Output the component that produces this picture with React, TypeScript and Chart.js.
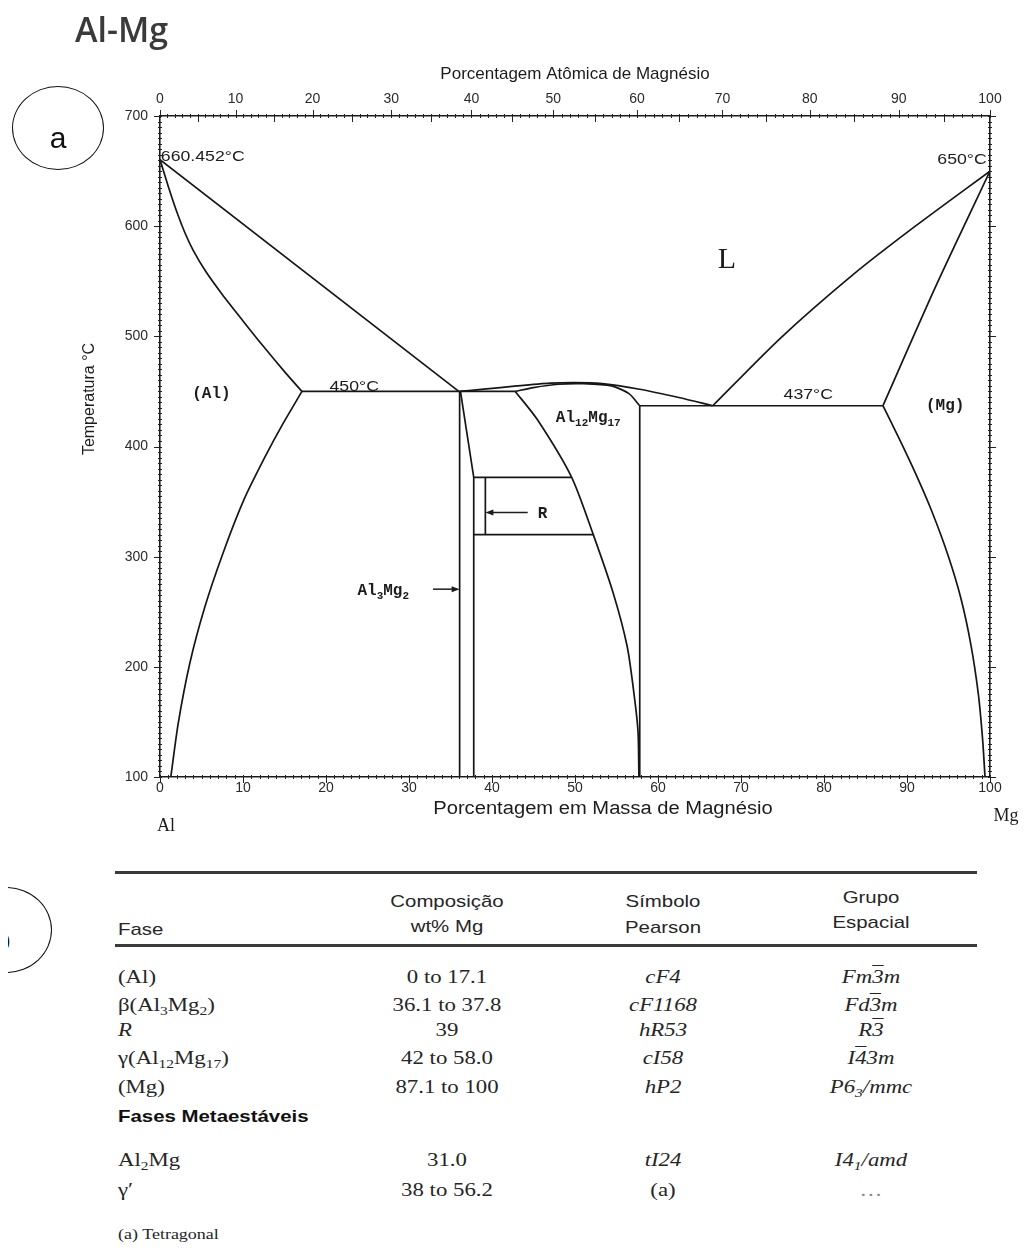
import React, { useEffect, useRef } from "react";
import { Chart, registerables } from "chart.js";

Chart.register(...registerables);

// ---------- phase boundaries: [wt% Mg, temperature °C] ----------
const alLiquidus = [[0, 660.452], [36.0, 450]];
const alSolidus = [[0, 660.452], [1, 636], [2, 613.5], [3, 594], [4, 578], [5.5, 559], [7.5, 538], [10, 514], [12.5, 490.5], [15, 468], [17.1, 450]];
const alSolvus = [[17.1, 450], [14.8, 420.5], [12.65, 390.5], [10.1, 351.5], [7.6, 303.4], [5.4, 254.3], [3.6, 203.5], [2.2, 149], [1.3, 100]];
const eutectic450 = [[17.1, 450], [42.8, 450]];
const betaLeft = [[36.1, 450], [36.1, 100]];
const betaRight = [[36.2, 450], [37.8, 372], [37.8, 100]];
const rUpper = [[37.8, 372], [49.6, 372]];
const rLower = [[37.8, 320], [52.2, 320]];
const rSide = [[39.2, 372], [39.2, 320]];
const gammaLeft = [[42.8, 450], [45.5, 424], [49.6, 372], [52.2, 320], [54.6, 267], [56.3, 218], [57.2, 170], [57.6, 140], [57.7, 100]];
const gammaRight = [[57.8, 437], [57.8, 100]];
const domeLiquidus = [[36.1, 450], [39, 452], [43, 455], [47, 457.5], [50, 458], [53, 457.3], [57.8, 452], [62.5, 444.5], [66.6, 437]];
const domeSolidus = [[42.8, 450], [45, 453.5], [48, 456.5], [51, 457], [54.4, 455], [56.5, 448], [57.8, 437]];
const eutectic437 = [[57.8, 437], [87.1, 437]];
const mgLiquidus = [[100, 650], [91, 600], [83.5, 556], [74.7, 498], [66.6, 437]];
const mgSolidus = [[100, 650], [93.5, 546], [87.1, 437]];
const mgSolvus = [[87.1, 437], [89, 408], [91, 376], [93, 341], [95, 300], [96.5, 262], [97.7, 220], [98.6, 175], [99.1, 135], [99.4, 100]];

const curvedLines = [alSolidus, alSolvus, gammaLeft, domeLiquidus, domeSolidus, mgLiquidus, mgSolidus, mgSolvus];
const straightLines = [alLiquidus, eutectic450, betaLeft, betaRight, rUpper, rLower, rSide, gammaRight, eutectic437];

// ---------- axes ----------
const wtTickLabels = [0, 10, 20, 30, 40, 50, 60, 70, 80, 90, 100];
const atomicTickLabels = [0, 10, 20, 30, 40, 50, 60, 70, 80, 90, 100];
const tempTickLabels = [100, 200, 300, 400, 500, 600, 700];
const MASS_MG = 24.305;
const MASS_AL = 26.982;
const atToWt = (a: number) => (100 * a * MASS_MG) / (a * MASS_MG + (100 - a) * MASS_AL);

// ---------- labels inside the diagram (data coordinates) ----------
const tempLabels = [
  { text: "660.452°C", x: 0.1, y: 662.8, align: "left" },
  { text: "650°C", x: 99.6, y: 660, align: "right" },
  { text: "450°C", x: 23.4, y: 454.5, align: "center" },
  { text: "437°C", x: 78.1, y: 446.5, align: "center" },
];
const phaseLabels = [
  { text: "(Al)", x: 6.2, y: 447.7 },
  { text: "(Mg)", x: 94.6, y: 436.8 },
  { text: "R", x: 46.1, y: 338.7 },
];
const liquidLabel = { text: "L", x: 68.3, y: 569 };
const compoundLabels = [
  { parts: ["Al", "12", "Mg", "17"], x: 51.6, y: 426 },
  { parts: ["Al", "3", "Mg", "2"], x: 26.9, y: 268.5 },
];
const arrows = [
  { from: [32.9, 270.5], to: [36.1, 270.5] },
  { from: [44.3, 340], to: [39.2, 340] },
];

// ---------- table ----------
const phaseCells = ["(Al)", "β(Al_3Mg_2)", "R", "γ(Al_12Mg_17)", "(Mg)"];
const compositionValues = ["0 to 17.1", "36.1 to 37.8", "39", "42 to 58.0", "87.1 to 100"];
const pearsonCells = ["cF4", "cF1168", "hR53", "cI58", "hP2"];
const spaceGroupCells = ["Fm~3m", "Fd~3m", "R~3", "I~43m", "P6_3/mmc"];
const metaPhaseCells = ["Al_2Mg", "γ′"];
const metaCompositionValues = ["31.0", "38 to 56.2"];
const metaPearsonCells = ["tI24", "(a)"];
const metaSpaceGroupCells = ["I4_1/amd", "…"];

const SANS = '"Liberation Sans", Arial, sans-serif';
const MONO = '"Liberation Mono", "Courier New", monospace';
const SERIF = '"Liberation Serif", "Times New Roman", serif';

const W = 1013;
const H = 845;
const LEFT_W = 152;
const RIGHT_W = 31;
const TOP_H = 108;
const BOTTOM_H = 76;

function drawText(ctx: any, s: string, x: number, y: number, font: string, align = "center", sx = 1, rot = 0) {
  ctx.save();
  ctx.translate(x, y);
  if (rot) ctx.rotate(rot);
  ctx.scale(sx, 1);
  ctx.font = font;
  ctx.textAlign = align;
  ctx.textBaseline = "middle";
  ctx.fillStyle = "#1c1c1c";
  ctx.fillText(s, 0, 0);
  ctx.restore();
}

function drawCompound(ctx: any, parts: string[], cx: number, cy: number) {
  const big = `bold 16px ${MONO}`;
  const small = `bold 11px ${MONO}`;
  ctx.save();
  let w = 0;
  parts.forEach((p, i) => {
    ctx.font = i % 2 ? small : big;
    w += ctx.measureText(p).width;
  });
  let x = cx - w / 2;
  ctx.textAlign = "left";
  ctx.textBaseline = "middle";
  ctx.fillStyle = "#1c1c1c";
  parts.forEach((p, i) => {
    ctx.font = i % 2 ? small : big;
    ctx.fillText(p, x, cy + (i % 2 ? 5 : 0));
    x += ctx.measureText(p).width;
  });
  ctx.restore();
}

const decorPlugin = {
  id: "decor",
  afterDraw(chart: any) {
    const { ctx, chartArea: ca, scales } = chart;
    const xs = scales.x;
    const ys = scales.y;
    const L = ca.left, R = ca.right, T = ca.top, B = ca.bottom;
    ctx.save();
    ctx.strokeStyle = "#222";
    ctx.lineWidth = 1;
    const seg = (x1: number, y1: number, x2: number, y2: number) => {
      ctx.beginPath();
      ctx.moveTo(x1, y1);
      ctx.lineTo(x2, y2);
      ctx.stroke();
    };
    for (let w = 0; w <= 100; w++) {
      const p = Math.round(xs.getPixelForValue(w)) + 0.5;
      seg(p, B - 2, p, B + (w % 10 === 0 ? 6 : 2));
    }
    for (let a = 0; a <= 100; a++) {
      const p = Math.round(xs.getPixelForValue(atToWt(a))) + 0.5;
      if (a % 10 === 0) seg(p, T - 6, p, T + 2);
      else if (a % 5 === 0) seg(p, T - 2, p, T + 6);
      else seg(p, T - 2, p, T + 2);
    }
    for (let t = 100; t <= 700; t += 5) {
      const p = Math.round(ys.getPixelForValue(t)) + 0.5;
      const major = t % 100 === 0;
      seg(L - (major ? 6 : 2), p, L + 2, p);
      seg(R - 2, p, R + (major ? 6 : 2), p);
    }
    // arrows
    ctx.strokeStyle = "#1c1c1c";
    ctx.fillStyle = "#1c1c1c";
    ctx.lineWidth = 1.5;
    arrows.forEach((a) => {
      const x1 = xs.getPixelForValue(a.from[0]);
      const y1 = ys.getPixelForValue(a.from[1]);
      const x2 = xs.getPixelForValue(a.to[0]);
      const y2 = ys.getPixelForValue(a.to[1]);
      const dir = Math.sign(x2 - x1);
      seg(x1, y1, x2 - dir * 5, y2);
      ctx.beginPath();
      ctx.moveTo(x2, y2);
      ctx.lineTo(x2 - dir * 8, y2 - 3);
      ctx.lineTo(x2 - dir * 8, y2 + 3);
      ctx.closePath();
      ctx.fill();
    });
    ctx.restore();

    // labels in the diagram
    tempLabels.forEach((l) =>
      drawText(ctx, l.text, xs.getPixelForValue(l.x), ys.getPixelForValue(l.y), `15px ${SANS}`, l.align, 1.18)
    );
    phaseLabels.forEach((l) =>
      drawText(ctx, l.text, xs.getPixelForValue(l.x), ys.getPixelForValue(l.y), `bold 16px ${MONO}`, "center")
    );
    drawText(ctx, liquidLabel.text, xs.getPixelForValue(liquidLabel.x), ys.getPixelForValue(liquidLabel.y), `30px ${SERIF}`);
    compoundLabels.forEach((c) => drawCompound(ctx, c.parts, xs.getPixelForValue(c.x), ys.getPixelForValue(c.y)));

    // axis titles and element names
    drawText(ctx, "Porcentagem Atômica de Magnésio", 567, 66, `17px ${SANS}`);
    drawText(ctx, "Porcentagem em Massa de Magnésio", 595, 801, `18px ${SANS}`, "center", 1.12);
    drawText(ctx, "Temperatura °C", 82, 391, `16px ${SANS}`, "center", 1, -Math.PI / 2);
    drawText(ctx, "Al", 158, 818, `18px ${SERIF}`);
    drawText(ctx, "Mg", 998, 808, `18px ${SERIF}`);
  },
};

function renderMarkup(s: string) {
  const out: any[] = [];
  let buf = "";
  let i = 0;
  const flush = () => {
    if (buf) out.push(buf);
    buf = "";
  };
  while (i < s.length) {
    const c = s[i];
    if (c === "_") {
      flush();
      let j = i + 1;
      while (j < s.length && /\d/.test(s[j])) j++;
      out.push(
        <sub key={i} style={{ fontSize: "0.68em", verticalAlign: "-0.3em", lineHeight: 0 }}>
          {s.slice(i + 1, j)}
        </sub>
      );
      i = j;
    } else if (c === "~") {
      flush();
      out.push(
        <span key={i} style={{ textDecoration: "overline" }}>
          {s[i + 1]}
        </span>
      );
      i += 2;
    } else {
      buf += c;
      i++;
    }
  }
  flush();
  return out;
}

function Txt(props: any) {
  const { x, y, align = "left", sx = 1.2, style, children } = props;
  const tf = align === "center" ? `translateX(-50%) scaleX(${sx})` : `scaleX(${sx})`;
  return (
    <div
      style={{
        position: "absolute",
        left: x - 8,
        top: y - 8 - 12,
        height: 24,
        lineHeight: "24px",
        whiteSpace: "nowrap",
        transform: tf,
        transformOrigin: align === "center" ? "center" : "left center",
        color: "#262626",
        ...style,
      }}
    >
      {children}
    </div>
  );
}

const rowY = [977, 1005, 1030, 1058, 1087];
const metaRowY = [1160, 1190];
const COL1 = 118;
const COL2 = 447;
const COL3 = 663;
const COL4 = 871;

export default function App() {
  const ref = useRef<HTMLCanvasElement>(null);

  useEffect(() => {
    const datasets = [
      ...curvedLines.map((pts) => ({ pts, tension: 0.25 })),
      ...straightLines.map((pts) => ({ pts, tension: 0 })),
    ].map((d) => ({
      data: d.pts.map(([x, y]) => ({ x, y })),
      showLine: true,
      borderColor: "#161616",
      borderWidth: 1.7,
      pointRadius: 0,
      tension: d.tension,
      fill: false,
    }));

    const tickFont = { family: SANS, size: 14 };
    const chart = new Chart(ref.current as HTMLCanvasElement, {
      type: "scatter",
      data: { datasets },
      options: {
        animation: false,
        responsive: false,
        devicePixelRatio: 1,
        layout: { padding: 0 },
        plugins: { legend: { display: false }, tooltip: { enabled: false } },
        events: [],
        scales: {
          x: {
            type: "linear",
            position: "bottom",
            min: 0,
            max: 100,
            afterBuildTicks: (s: any) => {
              s.ticks = wtTickLabels.map((v) => ({ value: v }));
            },
            ticks: { color: "#2a2a2a", font: tickFont, padding: 3, autoSkip: false, maxRotation: 0, callback: (v: any, i: number) => String(wtTickLabels[i]) },
            grid: { drawOnChartArea: false, drawTicks: false },
            border: { display: true, color: "#1a1a1a", width: 1.6 },
            afterFit: (s: any) => {
              s.height = BOTTOM_H;
            },
          },
          x2: {
            type: "linear",
            axis: "x",
            position: "top",
            min: 0,
            max: 100,
            afterBuildTicks: (s: any) => {
              s.ticks = atomicTickLabels.map((a) => ({ value: atToWt(a) }));
            },
            ticks: { color: "#2a2a2a", font: tickFont, padding: 8, autoSkip: false, maxRotation: 0, callback: (v: any, i: number) => String(atomicTickLabels[i]) },
            grid: { drawOnChartArea: false, drawTicks: false },
            border: { display: true, color: "#1a1a1a", width: 1.6 },
            afterFit: (s: any) => {
              s.height = TOP_H;
            },
          },
          y: {
            type: "linear",
            position: "left",
            min: 100,
            max: 700,
            afterBuildTicks: (s: any) => {
              s.ticks = tempTickLabels.map((v) => ({ value: v }));
            },
            ticks: { color: "#2a2a2a", font: tickFont, padding: 12, autoSkip: false, callback: (v: any, i: number) => String(tempTickLabels[i]) },
            grid: { drawOnChartArea: false, drawTicks: false },
            border: { display: true, color: "#1a1a1a", width: 1.6 },
            afterFit: (s: any) => {
              s.width = LEFT_W;
            },
          },
          y2: {
            type: "linear",
            axis: "y",
            position: "right",
            min: 100,
            max: 700,
            ticks: { display: false },
            grid: { drawOnChartArea: false, drawTicks: false },
            border: { display: true, color: "#1a1a1a", width: 1.6 },
            afterFit: (s: any) => {
              s.width = RIGHT_W;
            },
          },
        },
      } as any,
      plugins: [decorPlugin],
    });
    return () => chart.destroy();
  }, []);

  const headerStyle = { fontFamily: SANS, fontSize: 17 };
  const rowStyle = { fontFamily: SERIF, fontSize: 19 };
  const italic = { ...rowStyle, fontStyle: "italic" };

  return (
    <div style={{ position: "relative", width: 1013, height: 1235 }}>
      <canvas ref={ref} width={W} height={H} style={{ position: "absolute", left: 0, top: 0, width: W, height: H }} />

      <div
        style={{
          position: "absolute",
          left: 67,
          top: 4,
          fontFamily: '"Open Sans", sans-serif',
          fontWeight: 600,
          fontSize: 34,
          lineHeight: "34px",
          color: "#3a3a3a",
          whiteSpace: "nowrap",
        }}
      >
        Al-Mg
      </div>

      <div
        style={{
          position: "absolute",
          left: 4,
          top: 78,
          width: 92,
          height: 84,
          border: "1.3px solid #111",
          borderRadius: "50%",
          boxSizing: "border-box",
        }}
      />
      <div style={{ position: "absolute", left: 30, top: 110, width: 40, textAlign: "center", fontFamily: SANS, fontSize: 30, lineHeight: "40px", color: "#111" }}>
        a
      </div>
      <div
        style={{
          position: "absolute",
          left: -48,
          top: 879,
          width: 92,
          height: 86,
          border: "1.3px solid #111",
          borderRadius: "50%",
          boxSizing: "border-box",
        }}
      />
      <div style={{ position: "absolute", left: -26, top: 912, width: 40, textAlign: "center", fontFamily: SANS, fontSize: 30, lineHeight: "40px", color: "#111" }}>
        b
      </div>

      {/* table rules */}
      <div style={{ position: "absolute", left: 107, top: 863, width: 862, height: 3, background: "#3a3a3a" }} />
      <div style={{ position: "absolute", left: 107, top: 936, width: 862, height: 3, background: "#3a3a3a" }} />

      {/* header */}
      <Txt x={COL1} y={930} style={headerStyle}>Fase</Txt>
      <Txt x={COL2} y={902} align="center" style={headerStyle}>Composição</Txt>
      <Txt x={COL2} y={927} align="center" style={headerStyle}>wt% Mg</Txt>
      <Txt x={COL3} y={902} align="center" style={headerStyle}>Símbolo</Txt>
      <Txt x={COL3} y={928} align="center" style={headerStyle}>Pearson</Txt>
      <Txt x={COL4} y={898} align="center" style={headerStyle}>Grupo</Txt>
      <Txt x={COL4} y={923} align="center" style={headerStyle}>Espacial</Txt>

      {rowY.map((y, i) => (
        <React.Fragment key={i}>
          <Txt x={COL1} y={y} style={i === 2 ? italic : rowStyle}>{renderMarkup(phaseCells[i])}</Txt>
          <Txt x={COL2} y={y} align="center" style={rowStyle}>{compositionValues[i]}</Txt>
          <Txt x={COL3} y={y} align="center" style={italic}>{renderMarkup(pearsonCells[i])}</Txt>
          <Txt x={COL4} y={y} align="center" style={italic}>{renderMarkup(spaceGroupCells[i])}</Txt>
        </React.Fragment>
      ))}

      <Txt x={COL1} y={1117} style={{ fontFamily: SANS, fontSize: 17, fontWeight: "bold", color: "#111" }}>
        Fases Metaestáveis
      </Txt>

      {metaRowY.map((y, i) => (
        <React.Fragment key={i}>
          <Txt x={COL1} y={y} style={rowStyle}>{renderMarkup(metaPhaseCells[i])}</Txt>
          <Txt x={COL2} y={y} align="center" style={rowStyle}>{metaCompositionValues[i]}</Txt>
          <Txt x={COL3} y={y} align="center" style={i === 1 ? rowStyle : italic}>{renderMarkup(metaPearsonCells[i])}</Txt>
          <Txt x={COL4} y={y} align="center" style={i === 1 ? { ...rowStyle, color: "#888" } : italic}>{renderMarkup(metaSpaceGroupCells[i])}</Txt>
        </React.Fragment>
      ))}

      <div
        style={{
          position: "absolute",
          left: COL1 - 8,
          top: 1218,
          height: 17,
          lineHeight: "17px",
          whiteSpace: "nowrap",
          transform: "scaleX(1.2)",
          transformOrigin: "left center",
          fontFamily: SERIF,
          fontSize: 15,
          color: "#262626",
        }}
      >
        (a) Tetragonal
      </div>
    </div>
  );
}
